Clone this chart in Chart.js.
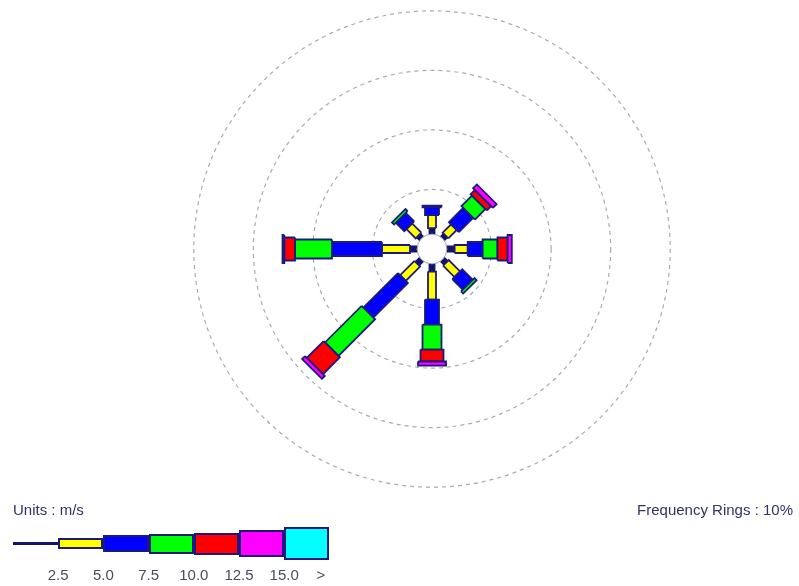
<!DOCTYPE html>
<html>
<head>
<meta charset="utf-8">
<script src="https://cdn.jsdelivr.net/npm/chart.js@4.4.1/dist/chart.umd.min.js"></script>
<style>
  body { margin: 0; background: #fff; }
  #wrap { position: relative; width: 799px; height: 586px; font-family: "Liberation Sans", Arial, sans-serif; }
  #rose { position: absolute; left: 0; top: 0; }
  .txt { position: absolute; font-size: 15px; line-height: 15px; white-space: nowrap; color: #2e3468; }
  .tick { position: absolute; top: 567px; font-size: 15px; line-height: 15px; color: #464d60; transform: translateX(-50%); white-space: nowrap; }
  .key { position: absolute; box-sizing: border-box; }
</style>
</head>
<body>
<div id="wrap">
  <canvas id="rose" width="799" height="586"></canvas>
  <div class="txt" style="left:13px; top:502px;">Units : m/s</div>
  <div class="txt" style="right:6px; top:502px;">Frequency Rings : 10%</div>
  <div id="legend"></div>
</div>
<script>
// directions (compass degrees) and wind speed classes
const directions = ['N', 'NE', 'E', 'SE', 'S', 'SW', 'W', 'NW'];
const dirAngles = [0, 45, 90, 135, 180, 225, 270, 315];
const speedClasses = ['0.5 - 2.5', '2.5 - 5.0', '5.0 - 7.5', '7.5 - 10.0', '10.0 - 12.5', '12.5 - 15.0', '>= 15.0'];

// frequency (%) per class, order N NE E SE S SW W NW
const freq_0_25   = [1.0, 0.7, 1.3, 0.8, 1.3, 1.0, 1.2, 0.7];
const freq_25_50  = [2.2, 2.0, 2.2, 2.7, 4.7, 3.4, 4.7, 2.2];
const freq_50_75  = [1.3, 3.4, 2.5, 2.5, 4.2, 8.2, 8.4, 2.0];
const freq_75_100 = [0.3, 2.5, 2.5, 0.5, 4.2, 8.7, 6.2, 0.5];
const freq_100_125 = [0.0, 1.0, 1.7, 0.0, 2.0, 4.0, 1.8, 0.0];
const freq_125_150 = [0.0, 0.9, 0.7, 0.0, 0.7, 0.7, 0.3, 0.0];
const freq_150_up = [0, 0, 0, 0, 0, 0, 0, 0];

const legendTicks = ['2.5', '5.0', '7.5', '10.0', '12.5', '15.0'];
const ringValues = [10, 20, 30, 40];
const calmRadius = 2.5;

// styles
const classColors = ['#14146a', '#ffff00', '#0000ff', '#00ff00', '#ff0000', '#ff00ff', '#00ffff'];
const classWidths = [5, 8, 14, 19, 23, 28, 32];   // px across the bar
const keyHeights = [3, 11, 17, 20, 22, 27, 33];
const outline = '#1a1a7e';

const series = [freq_0_25, freq_25_50, freq_50_75, freq_75_100, freq_100_125, freq_125_150, freq_150_up];

const pad = { left: 164, right: 99, top: 5, bottom: 93 };
const xMax = 45, yMax = 41;
const pxPerUnit = (799 - pad.left - pad.right) / (2 * xMax);

// one closed polygon dataset per direction / speed class
const datasets = [];
dirAngles.forEach((deg, d) => {
    const a = deg * Math.PI / 180;
    const ux = Math.sin(a), uy = Math.cos(a);
    const nx = Math.cos(a), ny = -Math.sin(a);
    let r = calmRadius;
    series.forEach((vals, c) => {
        const v = vals[d];
        if (!v) return;
        const r1 = r, r2 = r + v;
        r = r2;
        const h = classWidths[c] / 2 / pxPerUnit;
        const pts = [
            { x: r1 * ux + h * nx, y: r1 * uy + h * ny },
            { x: r2 * ux + h * nx, y: r2 * uy + h * ny },
            { x: r2 * ux - h * nx, y: r2 * uy - h * ny },
            { x: r1 * ux - h * nx, y: r1 * uy - h * ny }
        ];
        pts.push(pts[0]);
        datasets.push({
            label: directions[d] + ' ' + speedClasses[c],
            data: pts,
            showLine: true,
            fill: 'shape',
            backgroundColor: classColors[c],
            borderColor: c === 0 ? classColors[0] : outline,
            borderWidth: 1.8,
            borderJoinStyle: 'miter',
            pointRadius: 0,
            tension: 0,
            order: -c
        });
    });
});

const ringsPlugin = {
    id: 'rings',
    beforeDatasetsDraw(chart) {
        const { ctx, scales: { x, y } } = chart;
        const cx = x.getPixelForValue(0), cy = y.getPixelForValue(0);
        ctx.save();
        ctx.setLineDash([4, 4]);
        ctx.strokeStyle = '#a4acb6';
        ctx.lineWidth = 1.2;
        ringValues.forEach(v => {
            ctx.beginPath();
            ctx.arc(cx, cy, x.getPixelForValue(v) - cx, 0, Math.PI * 2);
            ctx.stroke();
        });
        ctx.restore();
    },
    afterDatasetsDraw(chart) {
        const { ctx, scales: { x, y } } = chart;
        const cx = x.getPixelForValue(0), cy = y.getPixelForValue(0);
        ctx.save();
        ctx.beginPath();
        ctx.arc(cx, cy, x.getPixelForValue(calmRadius) - cx, 0, Math.PI * 2);
        ctx.fillStyle = '#ffffff';
        ctx.fill();
        ctx.strokeStyle = '#9aa0ac';
        ctx.lineWidth = 1;
        ctx.stroke();
        ctx.restore();
    }
};

new Chart(document.getElementById('rose'), {
    type: 'scatter',
    data: { datasets: datasets },
    options: {
        responsive: false,
        animation: false,
        layout: { padding: pad },
        plugins: { legend: { display: false }, tooltip: { enabled: false } },
        scales: {
            x: { type: 'linear', min: -xMax, max: xMax, display: false },
            y: { type: 'linear', min: -yMax, max: yMax, display: false }
        }
    },
    plugins: [ringsPlugin]
});

// speed legend
const legend = document.getElementById('legend');
const keyLeft = 13, keyStep = 45.2, keyMid = 543.5;
classColors.forEach((col, i) => {
    const el = document.createElement('div');
    el.className = 'key';
    el.style.left = (keyLeft + i * keyStep) + 'px';
    el.style.width = keyStep + 'px';
    el.style.height = keyHeights[i] + 'px';
    el.style.top = (keyMid - keyHeights[i] / 2) + 'px';
    el.style.background = col;
    if (i > 0) el.style.border = '2px solid ' + outline;
    legend.appendChild(el);
});
legendTicks.forEach((t, i) => {
    const el = document.createElement('div');
    el.className = 'tick';
    el.style.left = (keyLeft + (i + 1) * keyStep) + 'px';
    el.textContent = t;
    legend.appendChild(el);
});
const more = document.createElement('div');
more.className = 'tick';
more.style.left = '321px';
more.textContent = '>';
legend.appendChild(more);
</script>
</body>
</html>
